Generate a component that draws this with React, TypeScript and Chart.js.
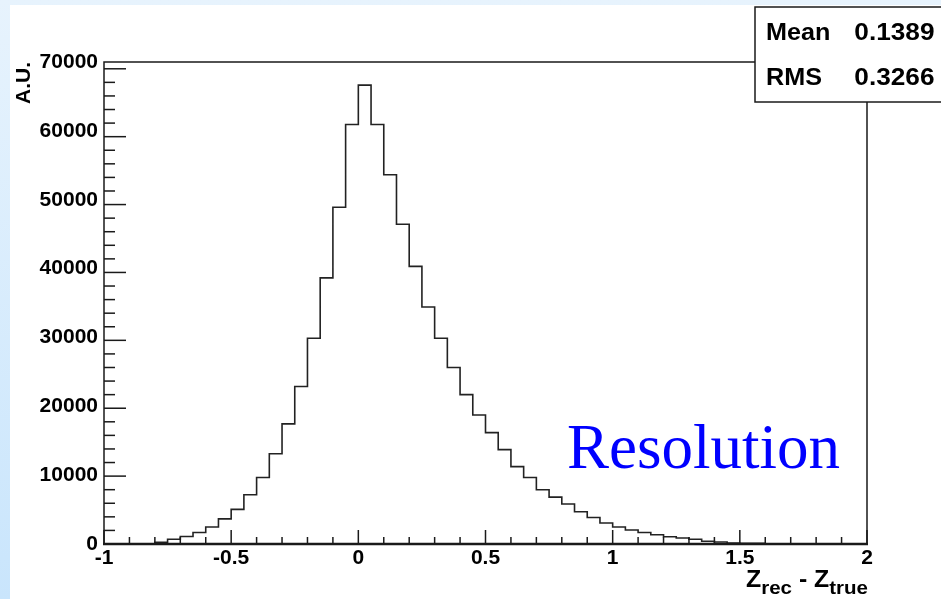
import React, { useEffect, useRef } from "react";
import { Chart, registerables } from "chart.js";

Chart.register(...registerables);

// Histogram: bins of width 0.05 starting at -1 (60 bins up to 2)
const BIN_START = -1;
const BIN_WIDTH = 0.05;
const binCounts = [
  0, 0, 0, 0,
  250, 690, 1100, 1700, 2500, 3700, 5100, 7250, 9800, 13300, 17700, 23200, 30300, 39200, 49600, 61800,
  67600, 61800, 54400, 47100, 40900, 34900, 30300, 26000, 22000, 19000, 16400, 13900, 11400, 9800, 8000, 6900, 5900, 4750, 3900, 3100,
  2500, 2060, 1700, 1370, 1070, 880, 700, 400, 300, 150, 120, 100,
  0, 0, 0, 0, 0, 0, 0, 0,
];

const xTickLabels = ["-1", "-0.5", "0", "0.5", "1", "1.5", "2"];
const yTickLabels = ["0", "10000", "20000", "30000", "40000", "50000", "60000", "70000"];

const statNames = ["Mean", "RMS"];
const statValues = ["0.1389", "0.3266"];

const xTitleParts = ["Z", "rec", " - Z", "true"];
const yTitle = "A.U.";
const annotation = "Resolution";

const X_MIN = -1;
const X_MAX = 2;
const Y_MIN = 0;
const Y_MAX = 71000;

const FONT = "'Liberation Sans', Arial, Helvetica, sans-serif";

const decorPlugin = {
  id: "decor",
  beforeDraw(chart: any) {
    const { ctx, width, height } = chart;
    ctx.save();
    const g = ctx.createLinearGradient(0, 0, 0, height);
    g.addColorStop(0, "#e7f3fd");
    g.addColorStop(1, "#c9e5fc");
    ctx.fillStyle = g;
    ctx.fillRect(0, 0, width, height);
    ctx.fillStyle = "#ffffff";
    ctx.fillRect(10, 5, width - 10, height - 5);
    ctx.restore();
  },
  afterDraw(chart: any) {
    const { ctx, chartArea } = chart;
    const xs = chart.scales.x;
    const ys = chart.scales.y;
    const { left, right, top, bottom } = chartArea;
    ctx.save();

    // frame
    ctx.strokeStyle = "#1a1a1a";
    ctx.lineWidth = 1.5;
    ctx.beginPath();
    ctx.moveTo(left, bottom);
    ctx.lineTo(left, top);
    ctx.lineTo(right, top);
    ctx.lineTo(right, bottom);
    ctx.stroke();
    ctx.lineWidth = 2.5;
    ctx.beginPath();
    ctx.moveTo(left - 1, bottom);
    ctx.lineTo(right + 1, bottom);
    ctx.stroke();

    // x ticks (inward), minor every 0.1, major every 0.5
    ctx.lineWidth = 1.5;
    for (let i = 0; i <= 30; i++) {
      const v = X_MIN + i * 0.1;
      const px = xs.getPixelForValue(v);
      const len = i % 5 === 0 ? 14 : 7;
      ctx.beginPath();
      ctx.moveTo(px, bottom);
      ctx.lineTo(px, bottom - len);
      ctx.stroke();
    }
    // y ticks (inward), minor every 2000, major every 10000
    for (let i = 0; i <= 35; i++) {
      const v = i * 2000;
      const py = ys.getPixelForValue(v);
      const len = i % 5 === 0 ? 22 : 11;
      ctx.beginPath();
      ctx.moveTo(left, py);
      ctx.lineTo(left + len, py);
      ctx.stroke();
    }

    // y title
    ctx.fillStyle = "#000";
    ctx.font = `bold 21px ${FONT}`;
    ctx.save();
    ctx.translate(24, top);
    ctx.rotate(-Math.PI / 2);
    ctx.textAlign = "right";
    ctx.textBaseline = "middle";
    ctx.fillText(yTitle, 0, 0);
    ctx.restore();

    // x title with subscripts, right aligned to frame right, stretched to reference width
    const mainFont = `bold 23px ${FONT}`;
    const subFont = `bold 19px ${FONT}`;
    const fonts = [mainFont, subFont, mainFont, subFont];
    const offs = [0, 7, 0, 7];
    let total = 0;
    const widths = xTitleParts.map((t, i) => {
      ctx.font = fonts[i];
      const w = ctx.measureText(t).width;
      total += w;
      return w;
    });
    const targetW = 122;
    const sx = targetW / total;
    ctx.save();
    ctx.translate(right + 1 - targetW, 587);
    ctx.scale(sx, 1);
    let cx = 0;
    ctx.textAlign = "left";
    ctx.textBaseline = "alphabetic";
    xTitleParts.forEach((t, i) => {
      ctx.font = fonts[i];
      ctx.fillText(t, cx, offs[i]);
      cx += widths[i];
    });
    ctx.restore();

    // stats box
    ctx.fillStyle = "#fff";
    ctx.fillRect(755, 7, 200, 95);
    ctx.strokeStyle = "#1a1a1a";
    ctx.lineWidth = 1.5;
    ctx.strokeRect(755, 7, 200, 95);
    ctx.fillStyle = "#000";
    ctx.font = `bold 23px ${FONT}`;
    const rowsY = [39.5, 85];
    const stretch = 1.14;
    statNames.forEach((n, i) => {
      ctx.save();
      ctx.translate(766, rowsY[i]);
      ctx.scale(stretch * 0.96, 1);
      ctx.textAlign = "left";
      ctx.fillText(n, 0, 0);
      ctx.restore();
      ctx.save();
      ctx.translate(934.5, rowsY[i]);
      ctx.scale(stretch, 1);
      ctx.textAlign = "right";
      ctx.fillText(statValues[i], 0, 0);
      ctx.restore();
    });

    // annotation
    ctx.fillStyle = "#0000ff";
    ctx.font = `63px 'Liberation Serif', 'Times New Roman', serif`;
    ctx.textAlign = "left";
    ctx.fillText(annotation, 567, 468);

    ctx.restore();
  },
};

export default function App() {
  const ref = useRef<HTMLCanvasElement | null>(null);

  useEffect(() => {
    if (!ref.current) return;
    const points = binCounts.map((c, i) => ({ x: BIN_START + i * BIN_WIDTH, y: c }));
    points.push({ x: BIN_START + binCounts.length * BIN_WIDTH, y: 0 });

    const chart = new Chart(ref.current, {
      type: "line",
      data: {
        datasets: [
          {
            data: points,
            stepped: "before",
            borderColor: "#222222",
            borderWidth: 1.6,
            pointRadius: 0,
            fill: false,
          },
        ],
      },
      options: {
        animation: false,
        responsive: false,
        devicePixelRatio: 1,
        layout: { padding: { left: 0, top: 62, right: 74, bottom: 0 } },
        plugins: { legend: { display: false }, tooltip: { enabled: false } },
        scales: {
          x: {
            type: "linear",
            min: X_MIN,
            max: X_MAX,
            grid: { display: false, drawTicks: false },
            border: { display: false },
            ticks: {
              stepSize: 0.5,
              includeBounds: false,
              padding: 2,
              color: "#000",
              font: { family: FONT, size: 21, weight: "bold" },
              callback: (_v: any, i: number) => xTickLabels[i] ?? "",
            },
            afterFit: (s: any) => {
              s.height = 55;
            },
          },
          y: {
            type: "linear",
            min: Y_MIN,
            max: Y_MAX,
            grid: { display: false, drawTicks: false },
            border: { display: false },
            ticks: {
              stepSize: 10000,
              includeBounds: false,
              padding: 6,
              color: "#000",
              font: { family: FONT, size: 21, weight: "bold" },
              callback: (_v: any, i: number) => yTickLabels[i] ?? "",
            },
            afterFit: (s: any) => {
              s.width = 104;
            },
          },
        },
      },
      plugins: [decorPlugin],
    });
    return () => chart.destroy();
  }, []);

  return (
    <canvas
      ref={ref}
      width={941}
      height={599}
      style={{ position: "fixed", left: 0, top: 0, width: 941, height: 599 }}
    />
  );
}
